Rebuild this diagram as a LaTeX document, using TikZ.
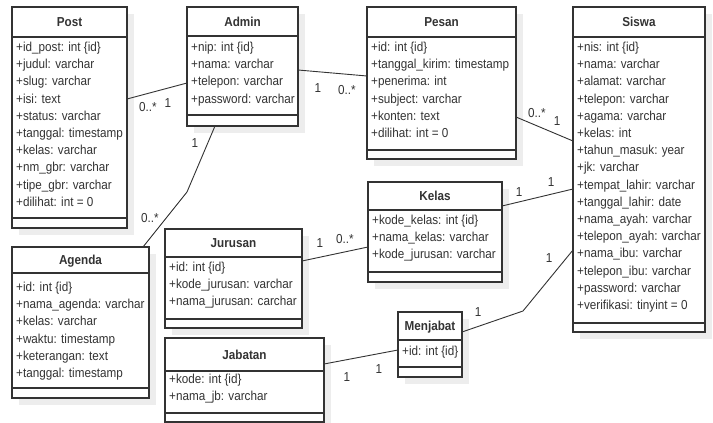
\documentclass[tikz,border=0pt]{standalone}
\usepackage{fontspec}
\setmainfont[FakeStretch=0.9]{Liberation Sans}
\definecolor{ink}{HTML}{333333}
\definecolor{shade}{HTML}{EDEDED}
\tikzset{
 classbox/.style={draw=ink, line width=1.1pt, fill=white, inner sep=0pt, outer sep=0pt, anchor=north west},
 classshadow/.style={fill=shade, draw=none},
 sepline/.style={draw=ink, line width=1.1pt},
 classtitle/.style={font=\fontsize{13}{15}\selectfont\bfseries, text=ink, inner sep=0pt, anchor=base},
 attr/.style={font=\fontsize{13}{15}\selectfont, text=ink, inner sep=0pt, anchor=base west},
 mult/.style={font=\fontsize{13}{15}\selectfont, text=ink, inner sep=0pt},
 assoc/.style={draw=ink, line width=0.9pt},
}
\newcommand\umlbox[8]{%
 \fill[classshadow] (#2+7,#3+7) rectangle (#4+7,#5+7);
 \node[classbox, minimum width={(#4-(#2))*1pt}, minimum height={(#5-(#3))*1pt}] (#1) at (#2,#3) {};
 \draw[sepline] (#2,#6) -- (#4,#6);
 \draw[sepline] (#2,#7) -- (#4,#7);
 \node[classtitle] (#1-title) at ({(#2+#4)/2},{(#3+#6)/2+4.6}) {#8};
}
\newcommand\umlattrs[4]{%
 \foreach \t [count=\i from 0] in {#4} {\node[attr] (#1-a\i) at (#2+4,{#3+\i*17.2}) {\t};}
}
\begin{document}
\begin{tikzpicture}[x=1pt,y=-1pt]
\useasboundingbox (0,0) rectangle (713,423);
\fill[white] (0,0) rectangle (713,423);

% classes
\umlbox{post}{12}{7}{127}{228}{37}{218}{Post}
\umlattrs{post}{12}{51.5}{+id\_post: int \{id\},+judul: varchar,+slug: varchar,+isi: text,+status: varchar,+tanggal: timestamp,+kelas: varchar,+nm\_gbr: varchar,+tipe\_gbr: varchar,+dilihat: int = 0}

\umlbox{admin}{187}{7}{298}{126}{36}{115}{Admin}
\umlattrs{admin}{187}{51.5}{+nip: int \{id\},+nama: varchar,+telepon: varchar,+password: varchar}

\umlbox{pesan}{367}{7}{516}{159}{37}{150}{Pesan}
\umlattrs{pesan}{367}{51.5}{+id: int \{id\},+tanggal\_kirim: timestamp,+penerima: int,+subject: varchar,+konten: text,+dilihat: int = 0}

\umlbox{siswa}{573}{7}{705}{332}{37}{323}{Siswa}
\umlattrs{siswa}{573}{51.5}{+nis: int \{id\},+nama: varchar,+alamat: varchar,+telepon: varchar,+agama: varchar,+kelas: int,+tahun\_masuk: year,+jk: varchar,+tempat\_lahir: varchar,+tanggal\_lahir: date,+nama\_ayah: varchar,+telepon\_ayah: varchar,+nama\_ibu: varchar,+telepon\_ibu: varchar,+password: varchar,+verifikasi: tinyint = 0}

\umlbox{agenda}{12}{247}{149}{398}{273}{388}{Agenda}
\umlattrs{agenda}{12}{291.5}{+id: int \{id\},+nama\_agenda: varchar,+kelas: varchar,+waktu: timestamp,+keterangan: text,+tanggal: timestamp}

\umlbox{kelas}{368}{182}{502}{282}{210}{272}{Kelas}
\umlattrs{kelas}{368}{224.5}{+kode\_kelas: int \{id\},+nama\_kelas: varchar,+kode\_jurusan: varchar}

\umlbox{jurusan}{165}{229}{302}{328}{257}{319}{Jurusan}
\umlattrs{jurusan}{165}{271.5}{+id: int \{id\},+kode\_jurusan: varchar,+nama\_jurusan: carchar}

\umlbox{jabatan}{165}{338}{324}{422}{371}{413}{Jabatan}
\umlattrs{jabatan}{165}{383.5}{+kode: int \{id\},+nama\_jb: varchar}

\umlbox{menjabat}{398}{312}{462}{377}{340}{367}{Menjabat}
\umlattrs{menjabat}{398}{355.5}{+id: int \{id\}}

% bends
\coordinate (bendA) at (187,192);
\coordinate (bendM) at (523,311);

% associations
\draw[assoc] ([yshift=18.5pt]post.east) -- ([yshift=-16.5pt]admin.west);
\draw[assoc] ([yshift=-3.5pt]admin.east) -- ([yshift=7pt]pesan.west);
\draw[assoc] ([xshift=-27.5pt]admin.south) -- (bendA) -- ([xshift=62.5pt]agenda.north);
\draw[assoc] ([yshift=-34pt]pesan.east) -- ([yshift=28.5pt]siswa.west);
\draw[assoc] ([yshift=26pt]kelas.east) -- ([yshift=-19.5pt]siswa.west);
\draw[assoc] ([yshift=17.5pt]jurusan.east) -- ([yshift=-15pt]kelas.west);
\draw[assoc] ([yshift=16pt]jabatan.east) -- ([yshift=-5.5pt]menjabat.west);
\draw[assoc] ([yshift=12.5pt]menjabat.east) -- (bendM) -- ([yshift=-80.5pt]siswa.west);

% multiplicities
\node[mult] (m1) at (148,107) {0..*};
\node[mult] (m2) at (168,103) {1};
\node[mult] (m3) at (318,88) {1};
\node[mult] (m4) at (347,90) {0..*};
\node[mult] (m5) at (195,143) {1};
\node[mult] (m6) at (150,218) {0..*};
\node[mult] (m7) at (537,113) {0..*};
\node[mult] (m8) at (557,121) {1};
\node[mult] (m9) at (519,192) {1};
\node[mult] (m10) at (551,182) {1};
\node[mult] (m11) at (320,243) {1};
\node[mult] (m12) at (345,239) {0..*};
\node[mult] (m13) at (347,377) {1};
\node[mult] (m14) at (379,369) {1};
\node[mult] (m15) at (478,312) {1};
\node[mult] (m16) at (549,258) {1};
\end{tikzpicture}
\end{document}
